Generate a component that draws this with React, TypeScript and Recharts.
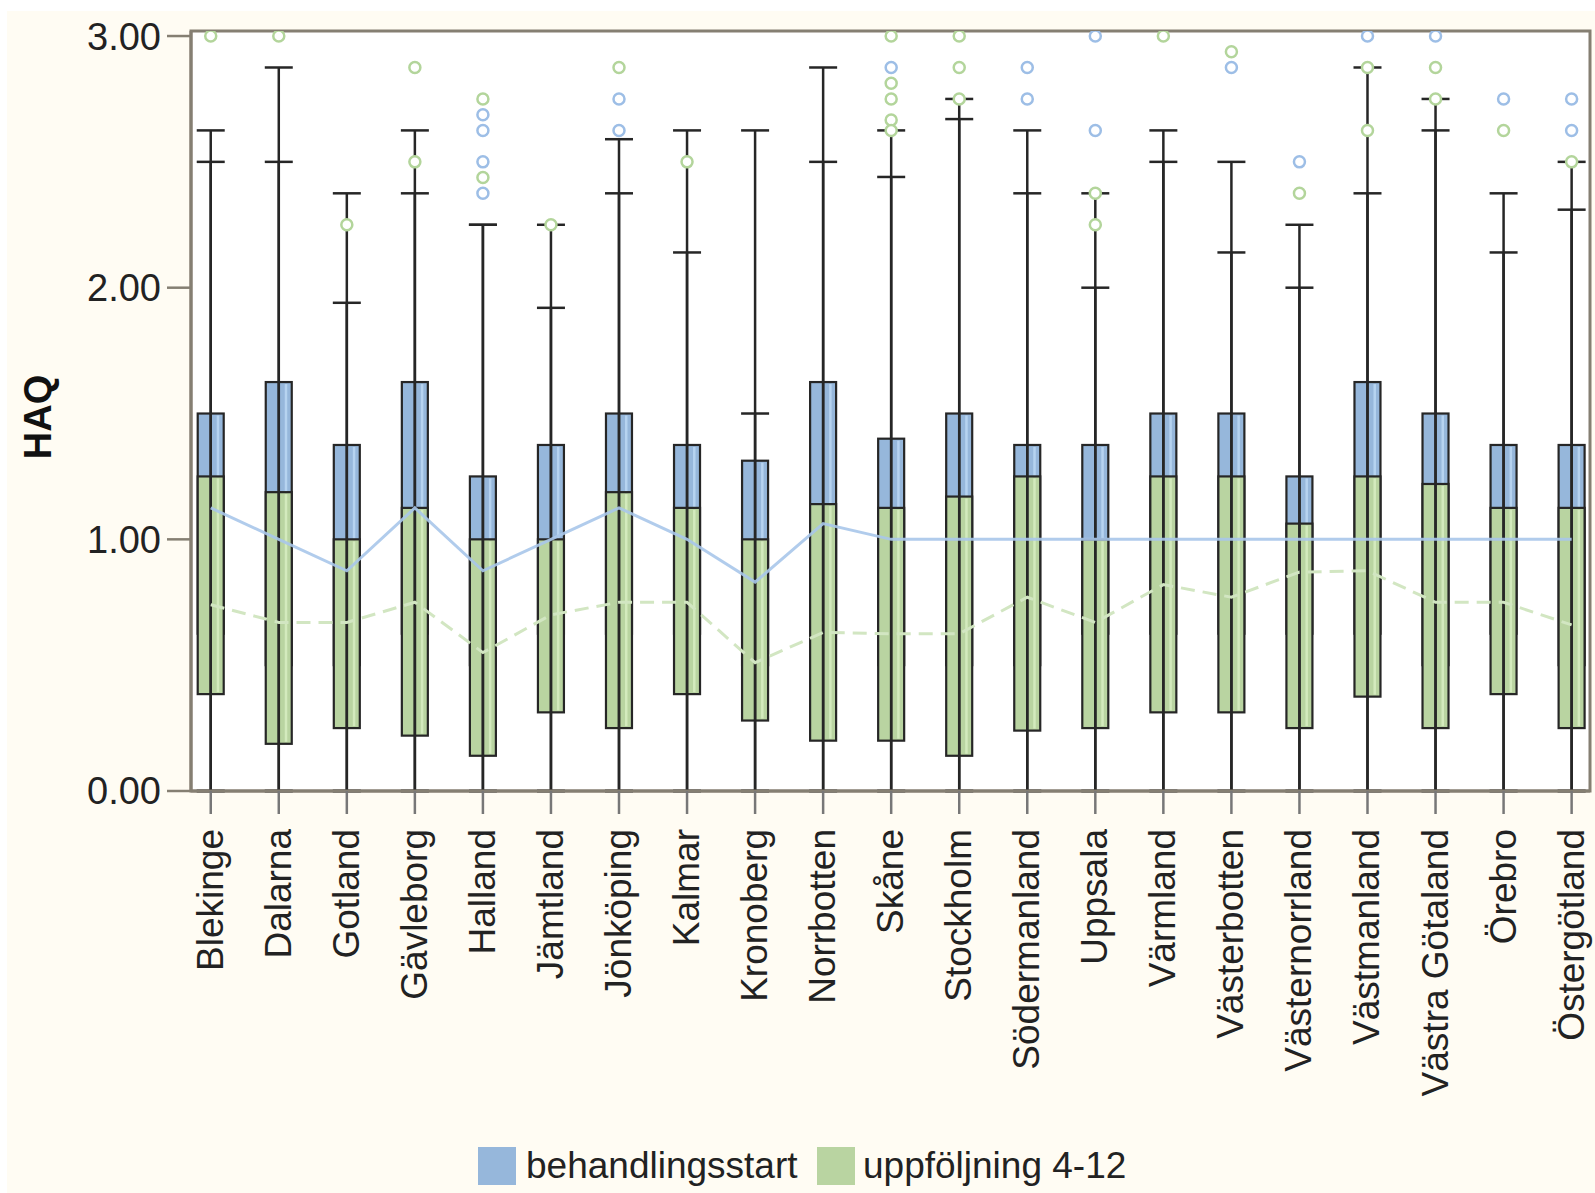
import {
  ComposedChart,
  Bar,
  Line,
  Scatter,
  ErrorBar,
  XAxis,
  YAxis,
  CartesianGrid,
  ReferenceArea,
  Label,
} from "recharts"

const regions = [
  "Blekinge", "Dalarna", "Gotland", "Gävleborg", "Halland", "Jämtland", "Jönköping",
  "Kalmar", "Kronoberg", "Norrbotten", "Skåne", "Stockholm", "Södermanland", "Uppsala",
  "Värmland", "Västerbotten", "Västernorrland", "Västmanland", "Västra Götaland", "Örebro",
  "Östergötland",
]

// behandlingsstart
const startQ1 = [0.625, 0.5, 0.5, 0.625, 0.5, 0.625, 0.625, 0.625, 0.5, 0.625, 0.5, 0.5, 0.5, 0.625, 0.625, 0.625, 0.625, 0.625, 0.5, 0.625, 0.5]
const startMedian = [1.125, 1.0, 0.875, 1.125, 0.875, 1.0, 1.125, 1.0, 0.83, 1.0625, 1.0, 1.0, 1.0, 1.0, 1.0, 1.0, 1.0, 1.0, 1.0, 1.0, 1.0]
const startQ3 = [1.5, 1.625, 1.375, 1.625, 1.25, 1.375, 1.5, 1.375, 1.3125, 1.625, 1.4, 1.5, 1.375, 1.375, 1.5, 1.5, 1.25, 1.625, 1.5, 1.375, 1.375]
const startMax = [2.625, 2.875, 2.375, 2.625, 2.25, 2.25, 2.59, 2.625, 2.625, 2.875, 2.625, 2.75, 2.625, 2.375, 2.625, 2.5, 2.25, 2.875, 2.75, 2.375, 2.5]
const startOutliers: [number, number][] = [
  [4, 2.6875], [4, 2.625], [4, 2.5], [4, 2.375],
  [6, 2.75], [6, 2.625],
  [10, 2.875],
  [12, 2.875], [12, 2.75],
  [13, 3.0], [13, 2.625],
  [15, 2.875],
  [16, 2.5],
  [17, 3.0],
  [18, 3.0],
  [19, 2.75],
  [20, 2.75], [20, 2.625],
]

// uppföljning 4-12
const followQ1 = [0.385, 0.1875, 0.25, 0.22, 0.14, 0.3125, 0.25, 0.385, 0.28, 0.2, 0.2, 0.14, 0.24, 0.25, 0.3125, 0.3125, 0.25, 0.375, 0.25, 0.385, 0.25]
const followMedian = [0.74, 0.67, 0.67, 0.75, 0.55, 0.7, 0.75, 0.75, 0.51, 0.63, 0.625, 0.625, 0.77, 0.67, 0.82, 0.77, 0.87, 0.875, 0.75, 0.75, 0.66]
const followQ3 = [1.25, 1.1875, 1.0, 1.125, 1.0, 1.0, 1.1875, 1.125, 1.0, 1.14, 1.125, 1.17, 1.25, 1.0, 1.25, 1.25, 1.0625, 1.25, 1.22, 1.125, 1.125]
const followMax = [2.5, 2.5, 1.94, 2.375, 2.25, 1.92, 2.375, 2.14, 1.5, 2.5, 2.44, 2.67, 2.375, 2.0, 2.5, 2.14, 2.0, 2.375, 2.625, 2.14, 2.31]
const followOutliers: [number, number][] = [
  [0, 3.0],
  [1, 3.0],
  [2, 2.25],
  [3, 2.875], [3, 2.5],
  [4, 2.75], [4, 2.4375],
  [5, 2.25],
  [6, 2.875],
  [7, 2.5],
  [10, 3.0], [10, 2.8125], [10, 2.75], [10, 2.6667], [10, 2.625],
  [11, 3.0], [11, 2.875], [11, 2.75],
  [13, 2.375], [13, 2.25],
  [14, 3.0],
  [15, 2.9375],
  [16, 2.375],
  [17, 2.875], [17, 2.625],
  [18, 2.875], [18, 2.75],
  [19, 2.625],
  [20, 2.5],
]

const yTicks = [0, 1, 2, 3]
const xTicks = regions.map((_, i) => i)

const FONT = "'Liberation Sans', Arial, sans-serif"
const BLUE = "#96b7db"
const GREEN = "#b9d4a1"
const X_DOMAIN: [number, number] = [-0.29, 20.27]
const Y_DOMAIN: [number, number] = [0, 3.02]

const rows = regions.map((name, i) => ({
  x: i,
  name,
  startBox: [startQ1[i], startQ3[i]],
  followBox: [followQ1[i], followQ3[i]],
  startMedian: startMedian[i],
  followMedian: followMedian[i],
}))

const startWhiskers = regions.map((_, i) => ({ x: i, y: 0, range: [0, startMax[i]] }))
const followWhiskers = regions.map((_, i) => ({ x: i, y: 0, range: [0, followMax[i]] }))
const startPoints = startOutliers.map(([i, v]) => ({ x: i, y: v }))
const followPoints = followOutliers.map(([i, v]) => ({ x: i, y: v }))

function BoxShape(props: any) {
  const { x, y, width, height, fill, shine } = props
  const top = Math.min(y, y + height)
  const h = Math.abs(height)
  return (
    <g>
      <rect x={x} y={top} width={width} height={h} fill={fill} stroke="#262626" strokeWidth={2.2} />
      <rect x={x + width - 7} y={top + 2} width={2.5} height={Math.max(0, h - 4)} fill={shine} />
    </g>
  )
}

function RegionTick({ x, y, payload }: any) {
  return (
    <text
      x={x}
      y={y}
      dy={12}
      transform={`rotate(-90 ${x} ${y})`}
      textAnchor="end"
      fontFamily={FONT}
      fontSize={37}
      fill="#222"
    >
      {regions[payload.value]}
    </text>
  )
}

const ring = (color: string) => (p: any) =>
  <circle cx={p.cx} cy={p.cy} r={5.5} fill="#fff" stroke={color} strokeWidth={2.5} />

export default function App() {
  return (
    <div
      style={{
        position: "absolute",
        left: 7,
        top: 11,
        width: 1588,
        height: 1182,
        background: "#fffcf3",
        fontFamily: FONT,
      }}
    >
      <ComposedChart
        width={1588}
        height={1100}
        data={rows}
        margin={{ top: 20, right: 5, left: 0, bottom: 0 }}
      >
        <CartesianGrid horizontal={false} vertical={false} fill="#fff" />

        <XAxis
          xAxisId="b"
          type="number"
          dataKey="x"
          domain={X_DOMAIN}
          allowDataOverflow
          ticks={xTicks}
          interval={0}
          height={320}
          tickSize={23}
          tickMargin={15}
          tick={<RegionTick />}
          axisLine={{ stroke: "#857f72", strokeWidth: 3 }}
          tickLine={{ stroke: "#777", strokeWidth: 2.5 }}
        />
        <XAxis xAxisId="g" type="number" dataKey="x" domain={X_DOMAIN} allowDataOverflow hide />

        <YAxis
          width={184}
          domain={Y_DOMAIN}
          allowDataOverflow
          ticks={yTicks}
          tickFormatter={(v: number) => v.toFixed(2)}
          tickSize={24}
          tickMargin={6}
          tick={{ fontSize: 38, fill: "#222", fontFamily: FONT }}
          axisLine={{ stroke: "#857f72", strokeWidth: 3 }}
          tickLine={{ stroke: "#857f72", strokeWidth: 2.5 }}
        >
          <Label
            content={() => (
              <text
                x={44}
                y={406}
                transform="rotate(-90 44 406)"
                textAnchor="middle"
                fontFamily={FONT}
                fontWeight="bold"
                fontSize={38}
                fill="#111"
              >
                HAQ
              </text>
            )}
          />
        </YAxis>

        <ReferenceArea
          xAxisId="b"
          x1={X_DOMAIN[0]}
          x2={X_DOMAIN[1]}
          y1={Y_DOMAIN[0]}
          y2={Y_DOMAIN[1]}
          fill="none"
          fillOpacity={0}
          stroke="#857f72"
          strokeWidth={3}
        />

        <Scatter xAxisId="b" data={startWhiskers} dataKey="y" shape={() => <g />} isAnimationActive={false}>
          <ErrorBar dataKey="range" direction="y" width={14} stroke="#262626" strokeWidth={2.5} isAnimationActive={false} />
        </Scatter>
        <Scatter xAxisId="g" data={followWhiskers} dataKey="y" shape={() => <g />} isAnimationActive={false}>
          <ErrorBar dataKey="range" direction="y" width={14} stroke="#262626" strokeWidth={2.5} isAnimationActive={false} />
        </Scatter>

        <Bar
          xAxisId="b"
          dataKey="startBox"
          barSize={26}
          fill={BLUE}
          shape={(p: any) => <BoxShape {...p} shine="#b6d3f0" />}
          isAnimationActive={false}
        />
        <Bar
          xAxisId="g"
          dataKey="followBox"
          barSize={26}
          fill={GREEN}
          shape={(p: any) => <BoxShape {...p} shine="#d3eabd" />}
          isAnimationActive={false}
        />

        <Line
          xAxisId="b"
          dataKey="startMedian"
          type="linear"
          stroke="#a9c7ea"
          strokeWidth={3}
          strokeOpacity={0.9}
          dot={false}
          activeDot={false}
          isAnimationActive={false}
        />
        <Line
          xAxisId="g"
          dataKey="followMedian"
          type="linear"
          stroke="#d2e6c2"
          strokeWidth={3}
          strokeDasharray="14 8"
          dot={false}
          activeDot={false}
          isAnimationActive={false}
        />

        <Scatter xAxisId="b" data={startPoints} dataKey="y" shape={ring("#9dbee6")} isAnimationActive={false} />
        <Scatter xAxisId="g" data={followPoints} dataKey="y" shape={ring("#b3d59b")} isAnimationActive={false} />
      </ComposedChart>

      <div style={{ position: "absolute", left: 471, top: 1136, width: 38, height: 38, background: BLUE }} />
      <div style={{ position: "absolute", left: 519, top: 1134, fontSize: 37, color: "#222", lineHeight: "42px" }}>
        behandlingsstart
      </div>
      <div style={{ position: "absolute", left: 810, top: 1136, width: 38, height: 38, background: GREEN }} />
      <div style={{ position: "absolute", left: 856, top: 1134, fontSize: 37, color: "#222", lineHeight: "42px" }}>
        uppföljning 4-12
      </div>
    </div>
  )
}
